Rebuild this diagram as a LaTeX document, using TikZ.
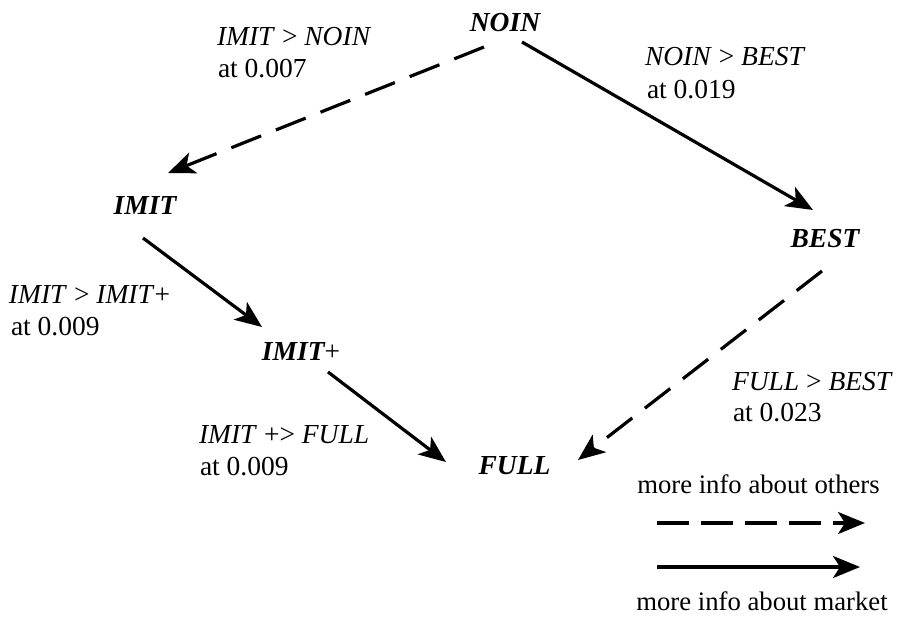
\documentclass[tikz,border=0pt]{standalone}
\usepackage{fontspec}
\setmainfont{Liberation Serif}
\usetikzlibrary{arrows.meta}
\begin{document}
\begin{tikzpicture}[x=1pt,y=-1pt,
  every node/.style={inner sep=0pt,outer sep=0pt,font=\fontsize{27.5}{32}\selectfont},
  state/.style={font=\fontsize{27.5}{32}\selectfont\bfseries\itshape},
  lbl/.style={anchor=base west},
  legtext/.style={anchor=base,font=\fontsize{26.7}{32}\selectfont},
  conn/.style={line width=3.2pt,-{Stealth[length=27pt,width=22pt,inset=7pt]}},
  solidconn/.style={conn},
  dashconn/.style={conn,dash pattern=on 32pt off 16pt},
  legdash/.style={conn,dash pattern=on 32pt off 12pt}]
\useasboundingbox (0,0) rectangle (898,622);
% states
\node[state] (noin) at (505,22.5) {NOIN};
\node[state] (imit) at (145,205) {IMIT};
\node[state] (imitp) at (301,351.5) {IMIT\textmd{\upshape +}};
\node[state] (full) at (514.5,466) {FULL};
\node[state] (best) at (825,238.5) {BEST};
% connectors
\draw[dashconn] ([shift={(-21,24.5)}]noin.center) -- ([shift={(23,-32)}]imit.center);
\draw[solidconn] ([shift={(17,19.5)}]noin.center) -- ([shift={(-12,-28.5)}]best.center);
\draw[solidconn] ([shift={(-2,33)}]imit.center) -- ([shift={(-39,-24.5)}]imitp.center);
\draw[solidconn] ([shift={(27,20.5)}]imitp.center) -- ([shift={(-68.5,-4)}]full.center);
\draw[dashconn] ([shift={(-3,32.5)}]best.center) -- ([shift={(63.5,-6)}]full.center);
% labels
\node[lbl] (l1a) at (217,45) {\textit{IMIT} > \textit{NOIN}};
\node[lbl] (l1b) at (218,77) {at 0.007};
\node[lbl] (l2a) at (645,65) {\textit{NOIN} > \textit{BEST}};
\node[lbl] (l2b) at (647,98) {at 0.019};
\node[lbl] (l3a) at (9,303) {\textit{IMIT} > \textit{IMIT}+};
\node[lbl] (l3b) at (11,335) {at 0.009};
\node[lbl] (l4a) at (199,443) {\textit{IMIT} +> \textit{FULL}};
\node[lbl] (l4b) at (200,475) {at 0.009};
\node[lbl] (l5a) at (732,390) {\textit{FULL} > \textit{BEST}};
\node[lbl] (l5b) at (733,421) {at 0.023};
% legend
\node[legtext] (lego) at (758.5,493) {more info about others};
\node[legtext] (legm) at (762,610) {more info about market};
\coordinate (d1) at (657,523);
\coordinate (d2) at (865,523);
\coordinate (s1) at (657,567);
\coordinate (s2) at (860,567);
\draw[legdash] (d1) -- (d2);
\draw[solidconn] (s1) -- (s2);
\end{tikzpicture}
\end{document}
